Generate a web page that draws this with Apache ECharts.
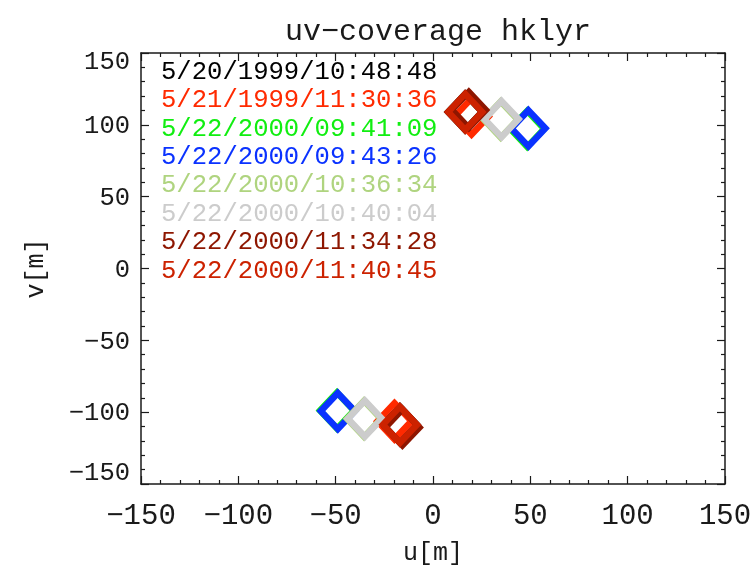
<!DOCTYPE html>
<html>
<head>
<meta charset="utf-8">
<script src="https://cdn.jsdelivr.net/npm/echarts@6/dist/echarts.min.js"></script>
<style>
html,body{margin:0;padding:0;background:#fff;}
#chart{width:753px;height:570px;}
</style>
</head>
<body>
<div id="chart"></div>
<script>
// ---- data ----
var titleText = 'uv\u2212coverage hklyr';
var xName = 'u[m]';
var yName = 'v[m]';
var axisMin = -150, axisMax = 150, axisStep = 50;

var dates = [
  '5/20/1999/10:48:48',
  '5/21/1999/11:30:36',
  '5/22/2000/09:41:09',
  '5/22/2000/09:43:26',
  '5/22/2000/10:36:34',
  '5/22/2000/10:40:04',
  '5/22/2000/11:34:28',
  '5/22/2000/11:40:45'
];
var colors = ['#000000', '#ff2a00', '#11ee11', '#0a32ff', '#afd47f', '#cccccc', '#8e1600', '#cc2200'];

// (u, v) points per observation: the point and its conjugate
var uvBlack     = [[16.5, 109.0], [-17.0, -108.7]];
var uvRed99     = [[19.8, 105.8], [-19.8, -106.3]];
var uvGreen     = [[48.4, 97.2], [-49.3, -98.9]];
var uvBlue      = [[49.0, 97.6], [-48.9, -99.2]];
var uvLightGrn  = [[34.8, 103.7], [-35.4, -104.6]];
var uvGray      = [[35.2, 104.0], [-35.0, -104.5]];
var uvDarkRed   = [[18.4, 110.4], [-15.7, -110.6]];
var uvOrangeRed = [[16.5, 109.0], [-17.0, -108.7]];
var uvSets = [uvBlack, uvRed99, uvGreen, uvBlue, uvLightGrn, uvGray, uvDarkRed, uvOrangeRed];

// ---- chart ----
var FONT = '"Liberation Mono", "DejaVu Sans Mono", monospace';
var INK = '#1a1a1a';
var chart = echarts.init(document.getElementById('chart'), null, {renderer: 'canvas'});

function fmtX(v) { return v < 0 ? '\u2212' + Math.abs(v) : String(v); }
function fmtY(v) {
  var s = v < 0 ? '\u2212' + Math.abs(v) : String(v);
  if (v === axisMax) return '{top|' + s + '}';
  if (v === axisMin) return '{bot|' + s + '}';
  return '{mid|' + s + '}';
}

function makeAxis(pos, isX, showLabel) {
  var a = {
    type: 'value',
    position: pos,
    min: axisMin, max: axisMax, interval: axisStep,
    axisLine: {show: true, onZero: false, lineStyle: {color: INK, width: 1.5}},
    axisTick: {show: true, inside: true, length: 8, lineStyle: {color: INK, width: 1.2}},
    minorTick: {show: true, splitNumber: 5, length: 4, lineStyle: {color: INK, width: 1.2}},
    splitLine: {show: false},
    minorSplitLine: {show: false},
    axisLabel: {show: showLabel}
  };
  if (showLabel) {
    if (isX) {
      a.axisLabel = {
        show: true, formatter: fmtX,
        fontFamily: FONT, fontSize: 29, color: INK, margin: 18
      };
    } else {
      var base = {fontFamily: FONT, fontSize: 25.5, color: INK};
      a.axisLabel = {
        show: true, formatter: fmtY, margin: 11,
        fontFamily: FONT, fontSize: 25.5, color: INK,
        rich: {
          top: Object.assign({padding: [18, 0, 0, 0]}, base),
          bot: Object.assign({padding: [0, 0, 22, 0]}, base),
          mid: Object.assign({padding: [3, 0, 0, 0]}, base)
        }
      };
    }
    a.name = isX ? xName : yName;
    a.nameLocation = 'middle';
    a.nameGap = isX ? 57 : 92;
    a.nameTextStyle = {fontFamily: FONT, fontSize: 25, color: INK};
    if (!isX) a.nameRotate = 90;
  }
  return a;
}

var series = uvSets.map(function (pts, i) {
  return {
    type: 'scatter',
    name: dates[i],
    xAxisIndex: 0, yAxisIndex: 0,
    data: pts,
    symbol: 'diamond',
    symbolSize: [34, 36],
    itemStyle: {color: 'rgba(0,0,0,0)', borderColor: colors[i], borderWidth: 6.5, borderJoin: 'miter', opacity: 1},
    emphasis: {disabled: true},
    silent: true
  };
});

var legendGraphics = dates.map(function (d, i) {
  return {
    type: 'text',
    left: 161,
    top: 59 + i * 28.4,
    style: {text: d, fill: colors[i], font: '25.6px ' + FONT},
    silent: true
  };
});

chart.setOption({
  animation: false,
  title: {
    text: titleText,
    left: 433, top: 12,
    textAlign: 'center',
    textStyle: {fontFamily: FONT, fontSize: 30, fontWeight: 'normal', color: INK}
  },
  grid: {left: 141, right: 28, top: 53, bottom: 86, containLabel: false, outerBoundsMode: 'none'},
  xAxis: [makeAxis('bottom', true, true), makeAxis('top', true, false)],
  yAxis: [makeAxis('left', false, true), makeAxis('right', false, false)],
  series: series,
  graphic: legendGraphics
});
</script>
</body>
</html>
